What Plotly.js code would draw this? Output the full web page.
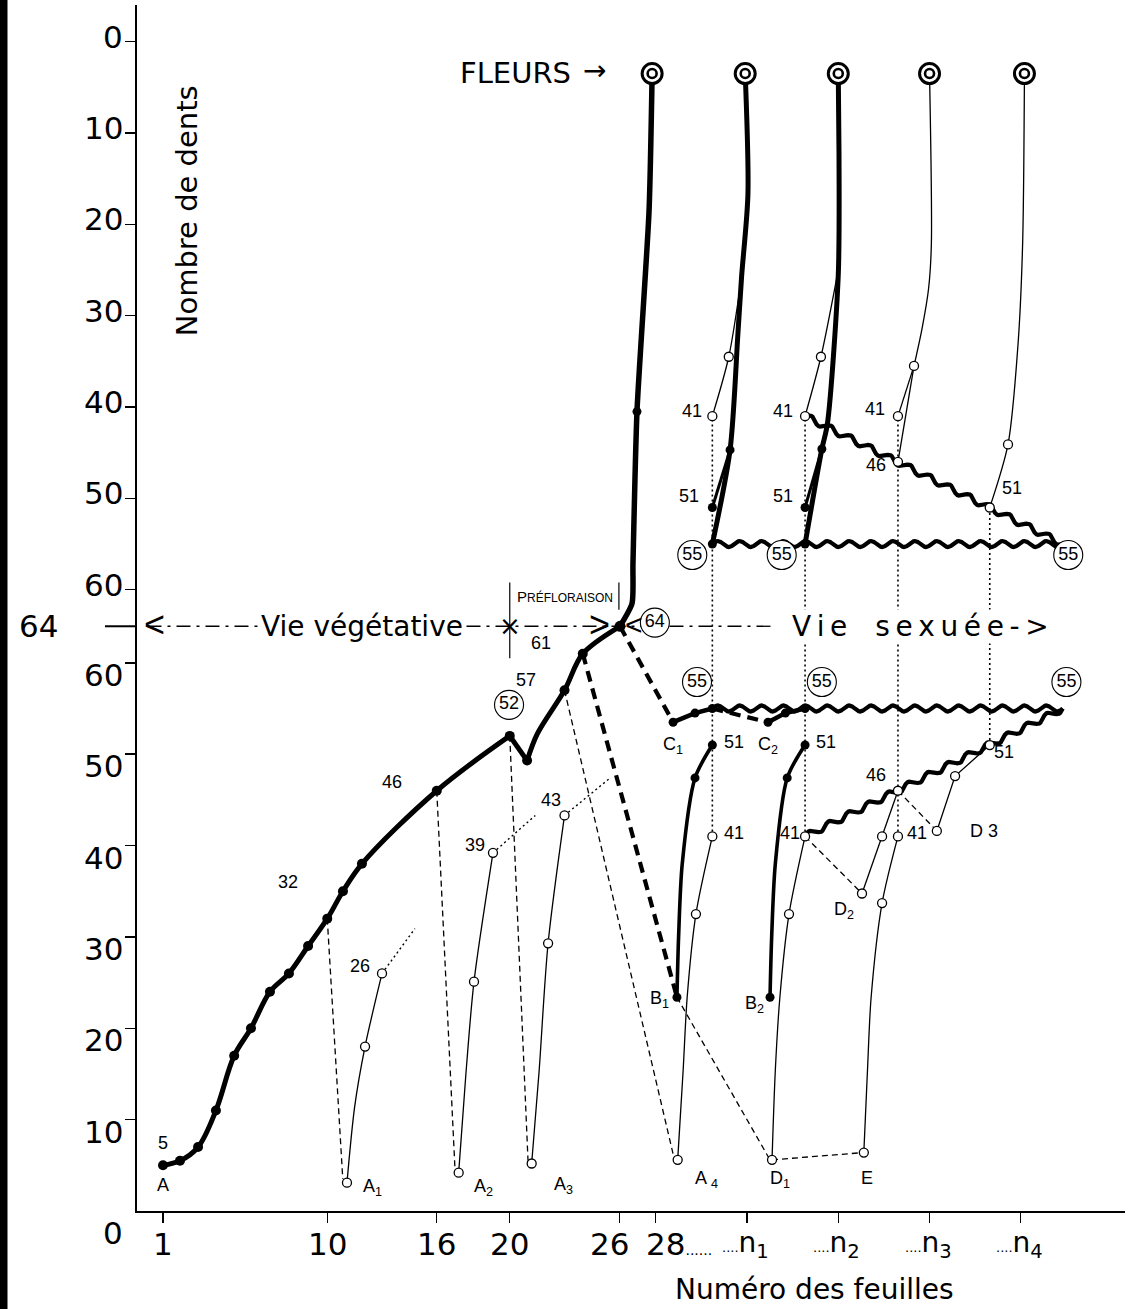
<!DOCTYPE html>
<html><head><meta charset="utf-8">
<script src="https://cdn.plot.ly/plotly-3.0.1.min.js"></script>
<style>html,body{margin:0;padding:0;background:#fff}#chart{width:1137px;height:1309px}</style>
</head><body><div id="chart"></div>
<script>
// ================= DATA (number of teeth vs leaf number) =================
// top half of the diagram is a mirrored scale: position = 2*64 - teeth
const MIRROR = 64;
const xTickVals = [1, 10, 16, 20, 26, 28, 33, 38, 43, 48];
const xTickText = ['1', '10', '16', '20', '26', '28', 'n1', 'n2', 'n3', 'n4'];
const yTickTeeth = [0, 10, 20, 30, 40, 50, 60];

// vegetative curve (filled dots)
const vegX = [1, 1.93, 2.92, 3.9, 4.9, 5.82, 6.86, 7.9, 8.95, 10, 10.86, 11.9, 16, 20];
const vegV = [5, 5.5, 7, 11, 17, 20, 24, 26, 29, 32, 35, 38, 46, 52];
const dipX = [20, 20.95];
const dipV = [52, 49.3];
const riseX = [20.95, 21.5, 23, 24, 26.04];
const riseV = [49.3, 52.2, 57, 61, 64];
const riseDotX = [20.95, 23, 24];
const riseDotV = [49.3, 57, 61];

// axillary series A1..A3 (open circles, bottom)
const a1X = [11.08, 11.5, 12.07, 13.0];   const a1V = [3.1, 11.4, 18, 26];
const a2X = [17.2, 17.6, 18.04, 19.08];   const a2V = [4.2, 15.1, 25.1, 39.2];
const a3X = [21.2, 21.6, 22.1, 23.0];     const a3V = [5.2, 15.1, 29.3, 43.3];
const a4X = [29.2, 29.5, 29.72, 30.2, 31.1];   const a4V = [5.6, 15.4, 23.4, 32.5, 41];
const d1X = [34.37, 34.55, 34.8, 35.3, 36.18]; const d1V = [5.6, 15.4, 23.4, 32.5, 41];
const eX  = [39.4, 39.6, 39.8, 40.4, 41.27];   const eV  = [6.4, 15.4, 23.4, 33.7, 41];
const d2X = [39.3, 40.4, 41.27];  const d2V = [34.75, 41, 46];
const d3X = [43.4, 44.4, 46.3];   const d3V = [41.6, 47.6, 51];
// thick series B, C (bottom)
const b1X = [29.16, 29.25, 29.45, 30.15, 31.1];  const b1V = [23.4, 30, 38, 47.4, 51];
const b2X = [34.26, 34.35, 34.55, 35.2, 36.18];  const b2V = [23.4, 30, 38, 47.4, 51];
const c1X = [28.95, 30.15, 31.1];  const c1V = [53.5, 54.5, 55];
const c2X = [34.15, 35.1, 36.18];  const c2V = [53.5, 54.5, 55];

// flowering branches (top half, teeth counted downwards)
const f1X = [26.04, 26.7, 26.75, 26.97, 27.63, 27.8];  const f1V = [64, 61.5, 57.2, 40.5, 18.6, 3.5];
const f2X = [31.1, 32.07, 32.5, 32.7, 33.05, 32.9];    const f2V = [55, 44.7, 32, 25.8, 16.7, 3.5];
const f2bX = [31.1, 32.07];        const f2bV = [51, 44.7];
const f2cX = [31.1, 32.0, 32.7];   const f2cV = [41, 34.5, 25.8];
const f3X = [36.18, 37.1, 37.4, 38.0, 38.04, 38.0];    const f3V = [55, 44.6, 41.9, 25.5, 12.3, 3.5];
const f3bX = [36.18, 37.1];        const f3bV = [51, 44.6];
const f3cX = [36.18, 37.05, 37.95];const f3cV = [41, 34.5, 25.5];
const f4aX = [41.27, 42.15];       const f4aV = [41, 35.5];
const f4bX = [41.27, 42.15];       const f4bV = [46, 35.5];
const f4X = [42.15, 42.6, 42.95, 43.1, 43.0];   const f4V = [35.5, 31.3, 27, 22.2, 3.5];
const f5X = [46.3, 47.3, 47.85, 48.1, 48.2];    const f5V = [51, 44.1, 33.1, 22.2, 3.5];
const flowerX = [27.8, 32.9, 38.0, 43.0, 48.2];
const flowerV = [3.5, 3.5, 3.5, 3.5, 3.5];

// marker sets
const botFilledX = [29.16, 30.15, 31.1, 34.26, 35.2, 36.18, 28.95, 30.15, 34.15, 35.1, 31.1, 36.18];
const botFilledV = [23.4, 47.4, 51, 23.4, 47.4, 51, 53.5, 54.5, 53.5, 54.5, 55, 55];
const botOpenX = [11.08, 12.07, 13.0, 17.2, 18.04, 19.08, 21.2, 22.1, 23.0, 29.2, 30.2, 31.1, 34.37, 35.3, 36.18, 39.4, 40.4, 41.27, 39.3, 40.4, 41.27, 43.4, 44.4, 46.3];
const botOpenV = [3.1, 18, 26, 4.2, 25.1, 39.2, 5.2, 29.3, 43.3, 5.6, 32.5, 41, 5.6, 32.5, 41, 6.4, 33.7, 41, 34.75, 41, 46, 41.6, 47.6, 51];
const topFilledX = [26.97, 32.07, 31.1, 37.1, 36.18, 31.1, 36.18];
const topFilledV = [40.5, 44.7, 51, 44.6, 51, 55, 55];
const topOpenX = [31.1, 32.0, 36.18, 37.05, 41.27, 42.15, 41.27, 46.3, 47.3];
const topOpenV = [41, 34.5, 41, 34.5, 41, 35.5, 46, 51, 44.1];

// connecting lines
const thinDashFromX = [10, 16, 20, 23, 29.16, 34.37, 36.18, 41.27];
const thinDashFromV = [32, 46, 52, 57, 23.4, 5.6, 41, 46];
const thinDashToX   = [10.85, 17.0, 21.0, 29.0, 34.2, 39.4, 39.3, 43.4];
const thinDashToV   = [3.5, 4.5, 5.5, 5.8, 5.8, 6.4, 34.75, 41.6];
const thickDashFromX = [24, 26.04, 31.1];
const thickDashFromV = [61, 64, 55];
const thickDashToX   = [29.16, 28.95, 34.15];
const thickDashToV   = [23.4, 53.5, 53.5];
const dotFromX = [13.0, 19.08, 23.0];
const dotFromV = [26, 39.2, 43.3];
const dotToX   = [14.8, 21.4, 25.5];
const dotToV   = [30.9, 43.3, 47.4];
const colX = [31.1, 36.18, 41.27, 46.3];
const colV = [41, 41, 41, 51];            // dotted column from bottom value up to same value on top scale
// wavy lines (same on both halves)
const waveFromX = [31.1, 50.3];  const waveFromV = [55, 55];
const waveToX   = [50.3, 36.18]; const waveToV   = [55, 41];

// ================= LAYOUT GEOMETRY =================
const W = 1137, H = 1309;
const M = {l: 137, r: 12, t: 5, b: 98};
const xRange = [-0.425, 53.71];
const yRange = [0, 132];
const KX = (W - M.l - M.r) / (xRange[1] - xRange[0]);
const KY = (H - M.t - M.b) / (yRange[1] - yRange[0]);
const mir = v => 2 * MIRROR - v;

const traces = [];
const line = (xs, vs, isTop, width, extra) => {
  traces.push(Object.assign({
    type: 'scatter', mode: 'lines', x: xs, y: vs.map(v => isTop ? mir(v) : v),
    line: Object.assign({color: '#000', width: width}, extra || {}), hoverinfo: 'skip', showlegend: false
  }));
};
const spl = (xs, vs, isTop, width, sm) => line(xs, vs, isTop, width, {shape: 'spline', smoothing: sm == null ? 1 : sm});
const segs = (fx, fv, tx, tv, isTop, width, dash) => {
  fx.forEach((x, i) => line([x, tx[i]], [fv[i], tv[i]], isTop, width, {dash: dash}));
};
const wavy = (x0, v0, x1, v1, isTop) => {
  const u0 = isTop ? mir(v0) : v0, u1 = isTop ? mir(v1) : v1;
  const dx = (x1 - x0) * KX, dy = (u1 - u0) * KY, L = Math.hypot(dx, dy);
  const nx = -dy / L, ny = dx / L, amp = 3, n = Math.max(1, Math.round(L / 22)), N = n * 16;
  const xs = [], us = [];
  for (let i = 0; i <= N; i++) {
    const t = i / N, s = amp * Math.sin(2 * Math.PI * n * t);
    xs.push(x0 + (dx * t + nx * s) / KX);
    us.push(u0 + (dy * t + ny * s) / KY);
  }
  traces.push({type: 'scatter', mode: 'lines', x: xs, y: us, line: {color: '#000', width: 4.2},
    hoverinfo: 'skip', showlegend: false});
};
const marks = (xs, vs, isTop, sym, size, fill, lw) => {
  traces.push({type: 'scatter', mode: 'markers', x: xs, y: vs.map(v => isTop ? mir(v) : v),
    marker: {symbol: sym, size: size, color: fill, line: {color: '#000', width: lw}},
    hoverinfo: 'skip', showlegend: false});
};

// dotted columns + 64 dash-dot line first (background)
colX.forEach((x, i) => line([x, x], [colV[i], mir(colV[i])], false, 1.6, {dash: '2px,3px'}));
line([0.15, 34.4], [MIRROR, MIRROR], false, 1.3, {dash: '14px,6px,3px,6px'});

// thin dashed / dotted links
segs(thinDashFromX, thinDashFromV, thinDashToX, thinDashToV, false, 1.3, '6px,4px');
segs(dotFromX, dotFromV, dotToX, dotToV, false, 1.4, '2px,3px');
segs(thickDashFromX, thickDashFromV, thickDashToX, thickDashToV, false, 4.2, '11px,7px');

// vegetative curve
spl(vegX, vegV, false, 5);
line(dipX, dipV, false, 5);
spl(riseX, riseV, false, 5, 0.9);

// thin series
[[a1X, a1V], [a2X, a2V], [a3X, a3V], [a4X, a4V], [d1X, d1V], [eX, eV]].forEach(p => spl(p[0], p[1], false, 1.3, 0.8));
line(d2X, d2V, false, 1.3);
line(d3X, d3V, false, 1.3);
// thick series
spl(b1X, b1V, false, 3.6, 0.8);
spl(b2X, b2V, false, 3.6, 0.8);
line(c1X, c1V, false, 4.5);
line(c2X, c2V, false, 4.5);

// flowering branches (top)
spl(f1X, f1V, true, 5.5, 0.6);
spl(f2X, f2V, true, 5, 0.8);
line(f2bX, f2bV, true, 3);
spl(f2cX, f2cV, true, 1.3, 0.8);
spl(f3X, f3V, true, 5, 0.8);
line(f3bX, f3bV, true, 3);
spl(f3cX, f3cV, true, 1.3, 0.8);
line(f4aX, f4aV, true, 1.3);
line(f4bX, f4bV, true, 1.3);
spl(f4X, f4V, true, 1.3, 0.8);
spl(f5X, f5V, true, 1.3, 0.8);

// wavy lines
waveFromX.forEach((x, i) => { wavy(x, waveFromV[i], waveToX[i], waveToV[i], false); wavy(x, waveFromV[i], waveToX[i], waveToV[i], true); });

// markers
marks(vegX, vegV, false, 'circle', 10, '#000', 0);
marks(riseDotX, riseDotV, false, 'circle', 10, '#000', 0);
marks([riseX[riseX.length - 1]], [MIRROR], false, 'circle', 11, '#000', 0);
marks(botFilledX, botFilledV, false, 'circle', 9, '#000', 0);
marks(topFilledX, topFilledV, true, 'circle', 9, '#000', 0);
marks(botOpenX, botOpenV, false, 'circle', 9, '#fff', 1.3);
marks(topOpenX, topOpenV, true, 'circle', 9, '#fff', 1.3);
marks(flowerX, flowerV, true, 'circle', 20, '#fff', 3);
marks(flowerX, flowerV, true, 'circle', 9, '#fff', 2.6);

// circled numbers
const circX = [19.96, 27.95, 30.26, 37.1, 50.5, 30.0, 34.9, 50.6];
const circU = [55.4, 64.4, 57.9, 57.9, 57.9, 71.8, 71.8, 71.8];
const circT = ['52', '64', '55', '55', '55', '55', '55', '55'];
traces.push({type: 'scatter', mode: 'markers+text', x: circX, y: circU, text: circT,
  textposition: 'middle center', textfont: {family: 'Liberation Sans, sans-serif', size: 18, color: '#000'},
  marker: {symbol: 'circle', size: 29, color: 'rgba(255,255,255,1)', line: {color: '#000', width: 1.1}},
  hoverinfo: 'skip', showlegend: false});

// ================= TEXT =================
const SMALL = {family: 'Liberation Sans, sans-serif', size: 18, color: '#000'};
const BIG = {family: 'DejaVu Sans, sans-serif', size: 31, color: '#000'};
const anns = [];
const ann = (text, x, u, font, o) => anns.push(Object.assign({text: text, x: x, y: u, xref: 'x', yref: 'y',
  showarrow: false, font: font}, o || {}));

// y tick labels
yTickTeeth.forEach(v => {
  anns.push({text: String(v), x: -12 / (W - M.l - M.r), xref: 'paper', y: v, yref: 'y', xanchor: 'right',
    yshift: v === 0 ? -22 : -12, showarrow: false, font: BIG});
  anns.push({text: String(v), x: -12 / (W - M.l - M.r), xref: 'paper', y: mir(v), yref: 'y', xanchor: 'right',
    yshift: 5, showarrow: false, font: BIG});
});
anns.push({text: '64', x: -77 / (W - M.l - M.r), xref: 'paper', y: MIRROR, yref: 'y', xanchor: 'right',
  showarrow: false, font: BIG});
// x tick labels
xTickVals.forEach((x, i) => {
  const t = xTickText[i];
  if (t === '28') ann('28<span style="font-size:14px">......</span>', x, 0, BIG, {xanchor: 'left', xshift: -12, yshift: -33});
  else if (t[0] === 'n') ann('<span style="font-size:13px">....</span>n<sub>' + t.slice(1) + '</sub>', x, 0,
    {family: 'DejaVu Sans, sans-serif', size: 28, color: '#000'}, {xanchor: 'right', xshift: 24, yshift: -33});
  else if (t === '26') ann(t, x, 0, BIG, {xshift: -10, yshift: -33});
  else ann(t, x, 0, BIG, {yshift: -33});
});
// axis titles
ann('Nombre de dents', 2.3, 109.5, {family: 'DejaVu Sans, sans-serif', size: 29, color: '#000'}, {textangle: -90});
ann('Numéro des feuilles', 36.7, 0, {family: 'DejaVu Sans, sans-serif', size: 28, color: '#000'}, {yshift: -78});

// annotation labels
ann('5', 1, 7.4, SMALL); ann('A', 1, 2.8, SMALL);
ann('32', 7.85, 36, SMALL); ann('46', 13.55, 47, SMALL); ann('26', 11.8, 26.8, SMALL);
ann('39', 18.1, 40.1, SMALL); ann('43', 22.26, 45, SMALL);
ann('57', 20.9, 58.1, SMALL); ann('61', 21.7, 62.2, SMALL);
ann('A<sub>1</sub>', 12.5, 2.6, SMALL); ann('A<sub>2</sub>', 18.55, 2.6, SMALL); ann('A<sub>3</sub>', 22.95, 2.8, SMALL);
ann('A <sub>4</sub>', 30.8, 3.4, SMALL); ann('D<sub>1</sub>', 34.8, 3.4, SMALL); ann('E', 39.6, 3.6, SMALL);
ann('B<sub>1</sub>', 28.2, 23.1, SMALL); ann('B<sub>2</sub>', 33.4, 22.6, SMALL);
ann('C<sub>1</sub>', 28.95, 51, SMALL); ann('C<sub>2</sub>', 34.15, 51, SMALL);
ann('D<sub>2</sub>', 38.3, 32.9, SMALL); ann('D 3', 46.0, 41.6, SMALL);
ann('51', 32.3, 51.3, SMALL); ann('51', 37.3, 51.3, SMALL); ann('51', 47.1, 50.2, SMALL);
ann('41', 32.3, 41.4, SMALL); ann('41', 35.35, 41.4, SMALL); ann('41', 42.3, 41.4, SMALL);
ann('46', 40.05, 47.7, SMALL);
ann('41', 30.0, 87.6, SMALL); ann('41', 34.95, 87.6, SMALL); ann('41', 40.0, 87.8, SMALL);
ann('51', 29.8, 78.3, SMALL); ann('51', 34.95, 78.3, SMALL); ann('51', 47.5, 79.1, SMALL);
ann('46', 40.07, 81.6, SMALL);
ann('FLEURS', 20.3, 124.6, {family: 'DejaVu Sans, sans-serif', size: 29, color: '#000'});
ann('→', 24.65, 124.8, {family: 'DejaVu Sans, sans-serif', size: 28, color: '#000'});
ann('P<span style="font-size:12px">RÉFLORAISON</span>', 23.05, 67.3, {family: 'Liberation Sans, sans-serif', size: 15, color: '#000'});
ann('Vie végétative', 11.9, MIRROR, {family: 'DejaVu Sans, sans-serif', size: 28, color: '#000'}, {bgcolor: '#fff', borderpad: 0});
ann('V\u2009i\u2009e\u2003s\u2009e\u2009x\u2009u\u2009é\u2009e\u2009-\u2009>', 42.5, MIRROR, {family: 'DejaVu Sans, sans-serif', size: 28, color: '#000'}, {bgcolor: '#fff', borderpad: 0});
ann('<', 0.55, MIRROR, {family: 'Liberation Sans, sans-serif', size: 36, color: '#000'}, {yshift: 2});
ann('>', 24.9, MIRROR, {family: 'Liberation Sans, sans-serif', size: 36, color: '#000'}, {yshift: 2});
ann('<', 26.8, MIRROR, {family: 'Liberation Sans, sans-serif', size: 30, color: '#000'}, {yshift: 2});
ann('×', 20.0, MIRROR, {family: 'DejaVu Sans, sans-serif', size: 26, color: '#000'});

// shapes: 64 long tick, préfloraison brackets, scan edge
const pw = W - M.l - M.r, ph = H - M.t - M.b;
const shapes = [
  {type: 'line', xref: 'paper', yref: 'y', x0: -32 / pw, x1: 0, y0: MIRROR, y1: MIRROR, line: {color: '#000', width: 2}},
  {type: 'line', xref: 'x', yref: 'y', x0: 20.0, x1: 20.0, y0: 60.5, y1: 68.8, line: {color: '#000', width: 1.2}},
  {type: 'line', xref: 'x', yref: 'y', x0: 25.98, x1: 25.98, y0: 65.8, y1: 68.8, line: {color: '#000', width: 1.2}},
  {type: 'rect', layer: 'above', xref: 'paper', yref: 'paper', x0: -M.l / pw, x1: (-M.l + 7) / pw, y0: -M.b / ph, y1: 1 + M.t / ph,
    fillcolor: '#000', line: {color: '#000', width: 1}}
];

const layout = {
  width: W, height: H, margin: M, paper_bgcolor: '#fff', plot_bgcolor: '#fff', showlegend: false,
  xaxis: {range: xRange, showline: true, linecolor: '#000', linewidth: 2, ticks: 'outside', ticklen: 10,
    tickwidth: 1.4, tickcolor: '#000', tickvals: xTickVals, showticklabels: false, showgrid: false, zeroline: false},
  yaxis: {range: yRange, showline: true, linecolor: '#000', linewidth: 2, ticks: 'outside', ticklen: 10,
    tickwidth: 1.4, tickcolor: '#000', tickvals: yTickTeeth.slice(1).concat(yTickTeeth.map(mir)),
    showticklabels: false, showgrid: false, zeroline: false},
  annotations: anns, shapes: shapes
};
Plotly.newPlot('chart', traces, layout, {staticPlot: true, displayModeBar: false});
</script></body></html>
